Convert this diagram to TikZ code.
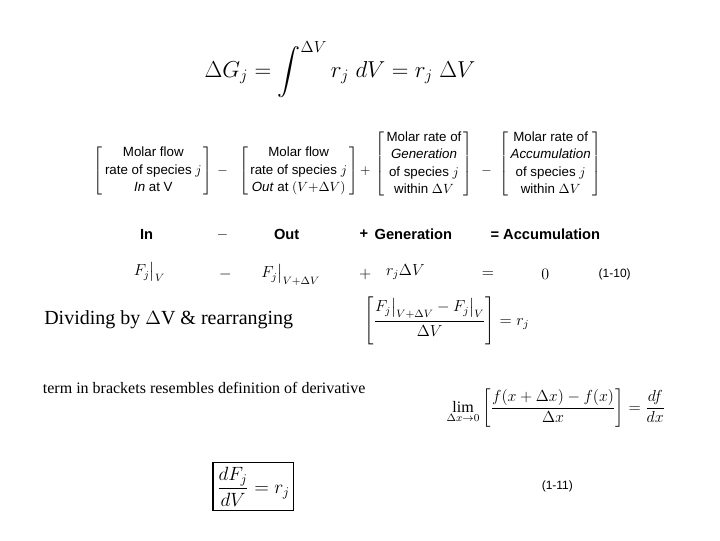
\documentclass[tikz,border=0pt]{standalone}
\usepackage{amsmath}
\usepackage{fontspec}
\setmainfont{Liberation Serif}
\newfontfamily\hv{Liberation Sans}
\begin{document}
\begin{tikzpicture}[x=1pt,y=-1pt,
  blk/.style={align=center,font=\hv\fontsize{10}{13}\selectfont,inner sep=0pt},
  row/.style={font=\hv\bfseries\fontsize{11}{13}\selectfont,inner sep=1pt},
  eq/.style={inner sep=1pt}]
\useasboundingbox (0,0) rectangle (540,405);
\node[eq,font=\fontsize{17}{20}\selectfont] (g) at (255,52) {$\Delta G_j=\displaystyle\int^{\Delta V} r_j\;dV = r_j\;\Delta V$};
\node[blk] (b1) at (115,128) {$\left[\begin{tabular}{@{\,}c@{\,}}Molar flow\\rate of species $j$\\\textit{In} at V\end{tabular}\right]$};
\node[blk] (m1) at (167,128) {$-$};
\node[blk] (b2) at (224,128) {$\left[\begin{tabular}{@{\,}c@{\,}}Molar flow\\rate of species $j$\\\textit{Out} at $(V{+}\Delta V)$\end{tabular}\right]$};
\node[blk] (p1) at (274,128) {$+$};
\node[blk] (b3) at (318,123) {$\left[\begin{tabular}{@{\,}c@{\,}}Molar rate of\\\textit{Generation}\\of species $j$\\within $\Delta V$\end{tabular}\right]$};
\node[blk] (m2) at (365,128) {$-$};
\node[blk] (b4) at (413,123) {$\left[\begin{tabular}{@{\,}c@{\,}}Molar rate of\\\textit{Accumulation}\\of species $j$\\within $\Delta V$\end{tabular}\right]$};
\node[row] (r1) at (110,176) {In};
\node[row] (r2) at (167,176) {$-$};
\node[row] (r3) at (215,176) {Out};
\node[row] (r4) at (273,176) {+};
\node[row] (r5) at (310,176) {Generation};
\node[row] (r6) at (409,176) {= Accumulation};
\node[eq,font=\large] (s1) at (112,204) {$F_j\big|_V$};
\node[eq,font=\large] (s2) at (169,206) {$-$};
\node[eq,font=\large] (s3) at (218,206) {$F_j\big|_{V+\Delta V}$};
\node[eq,font=\large] (s4) at (274,206) {$+$};
\node[eq,font=\large] (s5) at (304,204) {$r_j\Delta V$};
\node[eq,font=\large] (s6) at (366,206) {$=$};
\node[eq,font=\large] (s7) at (409,206) {$0$};
\node[eq,font=\hv\small] (s8) at (461,206) {(1-10)};
\node[anchor=west,font=\fontsize{15}{18}\selectfont,inner sep=0] (t1) at (33,240) {Dividing by $\Delta$V \& rearranging};
\node[eq,font=\large] (e1) at (335,241) {$\left[\dfrac{F_j\big|_{V+\Delta V}-F_j\big|_V}{\Delta V}\right]=r_j$};
\node[anchor=west,font=\fontsize{12}{14}\selectfont,inner sep=0] (t2) at (32,291) {term in brackets resembles definition of derivative};
\node[eq,font=\large] (e2) at (417,306) {$\displaystyle\lim_{\Delta x\to 0}\left[\frac{f(x+\Delta x)-f(x)}{\Delta x}\right]=\frac{df}{dx}$};
\node[eq,draw,thick,inner sep=3pt,font=\Large] (e3) at (190,365) {$\dfrac{dF_j}{dV}=r_j$};
\node[eq,font=\hv\small] (e4) at (418,365) {(1-11)};
\end{tikzpicture}
\end{document}
